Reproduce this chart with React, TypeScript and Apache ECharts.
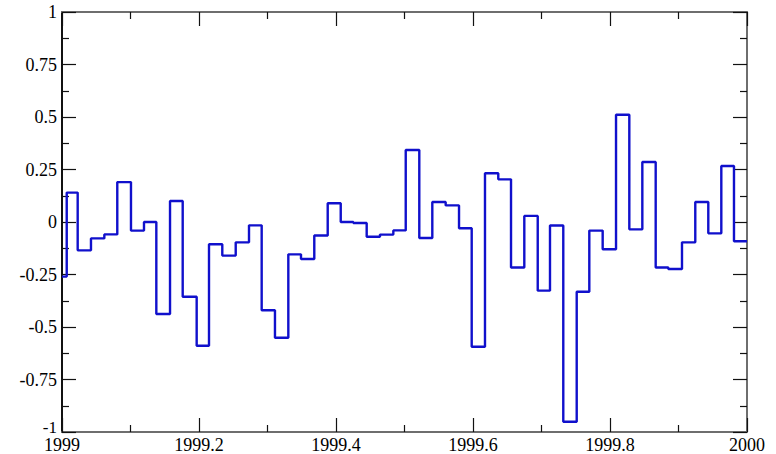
import React, { useEffect, useRef } from "react";
import * as echarts from "echarts";

// Times at which the stepped value changes (decimal years) and the value held from then on
const stepTimes = [
  1999.0, 1999.0069, 1999.0229, 1999.0423, 1999.0618, 1999.0807, 1999.1007, 1999.1197,
  1999.1377, 1999.1577, 1999.1762, 1999.1966, 1999.2146, 1999.234, 1999.2536, 1999.273,
  1999.2915, 1999.3109, 1999.3304, 1999.3489, 1999.3683, 1999.3879, 1999.4069, 1999.4253,
  1999.4448, 1999.4642, 1999.4837, 1999.5018, 1999.5216, 1999.5406, 1999.5601, 1999.5796,
  1999.5981, 1999.6175, 1999.6369, 1999.6555, 1999.6749, 1999.6945, 1999.7124, 1999.7318,
  1999.7514, 1999.7698, 1999.7893, 1999.8088, 1999.8282, 1999.8472, 1999.8667, 1999.8851,
  1999.9051, 1999.9245, 1999.9435, 1999.9625, 1999.981, 2000.0,
];
const stepValues = [
  -0.26, 0.14, -0.135, -0.078, -0.059, 0.19, -0.041, 0.0,
  -0.438, 0.1, -0.356, -0.589, -0.106, -0.16, -0.097, -0.016,
  -0.42, -0.551, -0.154, -0.176, -0.064, 0.089, 0.0, -0.005,
  -0.07, -0.06, -0.04, 0.343, -0.076, 0.095, 0.079, -0.03,
  -0.594, 0.232, 0.203, -0.217, 0.029, -0.327, -0.017, -0.951,
  -0.332, -0.041, -0.13, 0.511, -0.035, 0.286, -0.217, -0.224,
  -0.097, 0.095, -0.054, 0.267, -0.092, -0.092,
];

const xMin = 1999;
const xMax = 2000;
const xStep = 0.2;
const yMin = -1;
const yMax = 1;
const yStep = 0.25;

export default function App() {
  const ref = useRef<HTMLDivElement>(null);

  useEffect(() => {
    document.body.style.margin = "0";
    if (!ref.current) return;
    const chart = echarts.init(ref.current, null, { renderer: "svg" });
    const font = "Liberation Serif, Times New Roman, serif";
    const data = stepTimes.map((t, i) => [t, stepValues[i]]);
    const gray = "#6e6e6e";
    const dark = "#111";

    const xBase = {
      type: "value" as const,
      min: xMin,
      max: xMax,
      interval: xStep,
      splitLine: { show: false },
      axisTick: { show: true, inside: true, length: 14, lineStyle: { color: dark, width: 1.2 } },
      minorTick: { show: true, splitNumber: 2, length: 7, lineStyle: { color: dark, width: 1.2 } },
      minorSplitLine: { show: false },
    };
    const yBase = {
      type: "value" as const,
      min: yMin,
      max: yMax,
      interval: yStep,
      splitLine: { show: false },
      axisTick: { show: true, inside: true, length: 14, lineStyle: { color: dark, width: 1.2 } },
      minorTick: { show: true, splitNumber: 2, length: 7, lineStyle: { color: dark, width: 1.2 } },
      minorSplitLine: { show: false },
    };

    chart.setOption({
      animation: false,
      backgroundColor: "#ffffff",
      grid: { left: 62, right: 29, top: 12, bottom: 22, containLabel: false },
      xAxis: [
        {
          ...xBase,
          position: "bottom",
          axisLine: { show: true, onZero: false, lineStyle: { color: gray, width: 2 } },
          axisLabel: {
            show: true,
            margin: 4,
            color: "#000",
            fontFamily: font,
            fontSize: 18,
            formatter: (v: number) => String(Math.round(v * 10) / 10),
          },
        },
        {
          ...xBase,
          position: "top",
          axisLine: { show: true, onZero: false, lineStyle: { color: gray, width: 2 } },
          axisLabel: { show: false },
        },
      ],
      yAxis: [
        {
          ...yBase,
          position: "left",
          axisLine: { show: true, onZero: false, lineStyle: { color: dark, width: 2 } },
          axisLabel: {
            show: true,
            margin: 5,
            color: "#000",
            fontFamily: font,
            fontSize: 18,
            formatter: (v: number) => {
              const s = String(Math.round(v * 100) / 100);
              return v <= yMin ? "{low|" + s + "}" : s;
            },
            rich: {
              low: { fontFamily: font, fontSize: 17, color: "#000", lineHeight: 14, padding: [0, 0, 9, 0] },
            },
          },
        },
        {
          ...yBase,
          position: "right",
          axisLine: { show: true, onZero: false, lineStyle: { color: gray, width: 2 } },
          axisLabel: { show: false },
        },
      ],
      series: [
        {
          type: "line",
          step: "end",
          xAxisIndex: 0,
          yAxisIndex: 0,
          data,
          showSymbol: false,
          symbol: "none",
          lineStyle: { color: "#1010cc", width: 2.4 },
        },
      ],
    });
    return () => chart.dispose();
  }, []);

  return <div ref={ref} style={{ width: 776, height: 454 }} />;
}
